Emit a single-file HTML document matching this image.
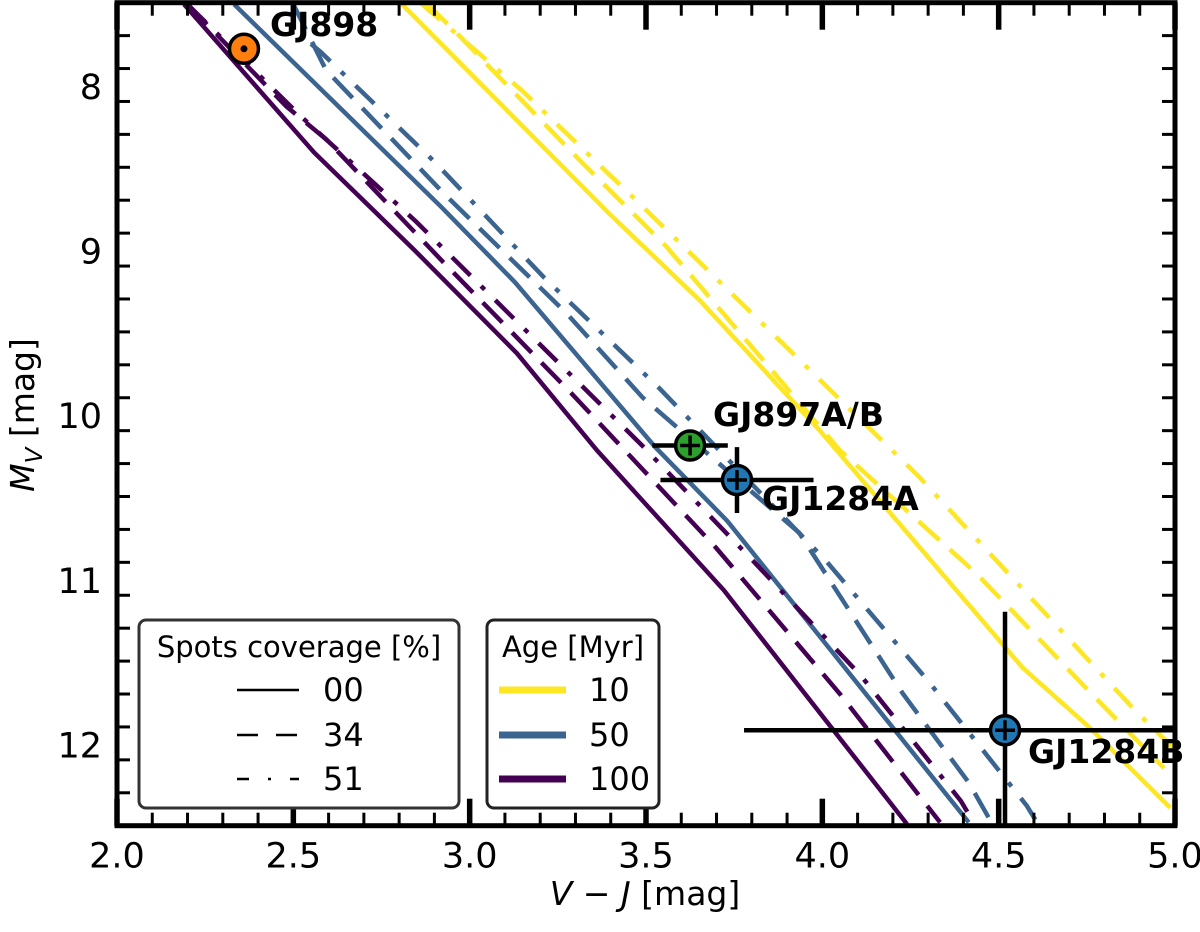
<!DOCTYPE html>
<html><head><meta charset="utf-8"><style>
html,body{margin:0;padding:0;background:#fff;}
svg{display:block;font-family:"DejaVu Sans","Liberation Sans",sans-serif;}
</style></head><body>
<svg id="chart" width="1200" height="932" viewBox="0 0 1200 932" xmlns="http://www.w3.org/2000/svg">
<defs><clipPath id="clip"><rect x="117" y="3" width="1058" height="823"/></clipPath></defs>
<g id="lines" clip-path="url(#clip)"></g>
<g id="points" clip-path="url(#clip)"></g>
<g id="axes"></g>
<text x="645" y="905" text-anchor="middle" font-size="33"><tspan font-style="italic">V</tspan> − <tspan font-style="italic">J</tspan> [mag]</text>
<text transform="translate(34,415) rotate(-90)" text-anchor="middle" font-size="33"><tspan font-style="italic">M</tspan><tspan font-style="italic" font-size="23" dy="8">V</tspan><tspan dy="-8"> [mag]</tspan></text>
<g>
<rect x="139" y="620" width="320" height="188" rx="7" fill="#fff" stroke="#333" stroke-width="3"/>
<text x="299" y="657" text-anchor="middle" font-size="29">Spots coverage [%]</text>
<line x1="237" y1="690" x2="299" y2="690" stroke="#000" stroke-width="2.5"/>
<text x="323" y="701" font-size="32">00</text>
<line x1="237" y1="735" x2="299" y2="735" stroke="#000" stroke-width="2.5" stroke-dasharray="21 18"/>
<text x="323" y="746" font-size="32">34</text>
<line x1="237" y1="779" x2="299" y2="779" stroke="#000" stroke-width="2.5" stroke-dasharray="12 19 3 19"/>
<text x="323" y="790" font-size="32">51</text>
</g>
<g>
<rect x="487" y="620" width="172" height="188" rx="7" fill="#fff" stroke="#222" stroke-width="3"/>
<text x="573" y="657" text-anchor="middle" font-size="29">Age [Myr]</text>
<line x1="499" y1="690" x2="566" y2="690" stroke="#fde725" stroke-width="7"/>
<text x="589" y="701" font-size="32">10</text>
<line x1="499" y1="735" x2="566" y2="735" stroke="#3b6590" stroke-width="7"/>
<text x="589" y="746" font-size="32">50</text>
<line x1="499" y1="779" x2="566" y2="779" stroke="#440154" stroke-width="7"/>
<text x="589" y="790" font-size="32">100</text>
</g>
</svg>
<script>
// Data arrays: [V-J, M_V]
const y10_00  = [[2.808,7.51],[3.395,8.78],[3.653,9.31],[3.993,10.10],[4.568,11.54],[4.756,11.90],[4.986,12.39]];
const y10_34  = [[2.88,7.51],[2.961,7.68],[3.318,8.47],[3.557,8.98],[4.050,10.22],[4.438,10.97],[4.782,11.74],[4.969,12.15]];
const y10_51  = [[2.86,7.50],[3.146,8.03],[3.472,8.70],[4.274,10.38],[4.580,11.09],[4.887,11.80],[5.02,12.08]];
const y50_00  = [[2.332,7.51],[2.919,8.74],[3.129,9.20],[3.526,10.20],[3.731,10.65],[4.415,12.48]];
const y50_34  = [[2.50,7.51],[2.593,7.91],[2.927,8.66],[3.276,9.39],[3.491,9.90],[3.934,10.72],[4.229,11.70],[4.416,12.24],[4.49,12.52]];
const y50_51  = [[2.55,7.75],[2.578,7.80],[2.902,8.47],[3.211,9.17],[3.537,9.84],[4.010,10.89],[4.300,11.62],[4.580,12.38],[4.62,12.52]];
const y100_00 = [[2.190,7.51],[2.559,8.41],[2.842,9.00],[3.134,9.63],[3.361,10.22],[3.721,11.07],[4.240,12.49]];
const y100_34 = [[2.20,7.51],[2.48,8.13],[2.593,8.33],[2.927,9.08],[3.287,9.87],[3.698,10.81],[4.050,11.70],[4.334,12.48]];
const y100_51 = [[2.20,7.51],[2.516,8.18],[2.848,8.83],[3.168,9.51],[3.489,10.19],[3.803,10.89],[4.110,11.59],[4.393,12.35],[4.44,12.52]];
const starNames = ["GJ898","GJ897A/B","GJ1284A","GJ1284B"];
const starX     = [2.36, 3.625, 3.758, 4.518];
const starY     = [7.78, 10.19, 10.40, 11.92];
const starXerrLo= [0.0, 0.107, 0.217, 0.74];
const starXerrHi= [0.0, 0.107, 0.217, 0.74];
const starYerr  = [0.0, 0.02, 0.2, 0.72];
const starColors= ["#ff7f0e","#2ca02c","#1f77b4","#1f77b4"];
const xTicks = [2.0,2.5,3.0,3.5,4.0,4.5,5.0];
const xTickLabels = ["2.0","2.5","3.0","3.5","4.0","4.5","5.0"];
const yTicks = [8,9,10,11,12];
const yTickLabels = ["8","9","10","11","12"];

const NS="http://www.w3.org/2000/svg";
const X0=117,X1=1175,XMIN=2,XMAX=5;
const Y8=85,PPM=164.6;
function sx(v){return X0+(v-XMIN)*(X1-X0)/(XMAX-XMIN);}
function sy(v){return Y8+(v-8)*PPM;}
function mk(tag,attrs,parent){const e=document.createElementNS(NS,tag);for(const k in attrs)e.setAttribute(k,attrs[k]);parent.appendChild(e);return e;}

const gl=document.getElementById('lines');
const series=[
 [y10_00,"#fde725","","line-10myr-00"],[y10_34,"#fde725","28 14","line-10myr-34"],[y10_51,"#fde725","26 15 5 15","line-10myr-51"],
 [y50_00,"#3b6590","","line-50myr-00"],[y50_34,"#3b6590","28 14","line-50myr-34"],[y50_51,"#3b6590","26 15 5 15","line-50myr-51"],
 [y100_00,"#440154","","line-100myr-00"],[y100_34,"#440154","28 14","line-100myr-34"],[y100_51,"#440154","26 15 5 15","line-100myr-51"]];
series.forEach(s=>{
 const p=mk('polyline',{points:s[0].map(d=>sx(d[0]).toFixed(1)+','+sy(d[1]).toFixed(1)).join(' '),fill:'none',stroke:s[1],'stroke-width':4.5},gl);
 if(s[2])p.setAttribute('stroke-dasharray',s[2]);
 
 
});

const gp=document.getElementById('points');
starNames.forEach((n,i)=>{
 const g=mk('g',{},gp);
 
 
 const cx=sx(starX[i]),cy=sy(starY[i]);
 if(starXerrLo[i]>0) mk('line',{x1:sx(starX[i]-starXerrLo[i]),x2:sx(starX[i]+starXerrHi[i]),y1:cy,y2:cy,stroke:'#000','stroke-width':4.5},g);
 if(starYerr[i]>0) mk('line',{x1:cx,x2:cx,y1:sy(starY[i]-starYerr[i]),y2:sy(starY[i]+starYerr[i]),stroke:'#000','stroke-width':4.5},g);
 mk('circle',{cx:cx,cy:cy,r:14.5,fill:starColors[i],stroke:'#000','stroke-width':3.5},g);
 if(i===0) mk('circle',{cx:cx,cy:cy,r:3.5,fill:'#000'},g);
 else {mk('line',{x1:cx-10,x2:cx+10,y1:cy,y2:cy,stroke:'#000','stroke-width':3.5},g);mk('line',{x1:cx,x2:cx,y1:cy-10,y2:cy+10,stroke:'#000','stroke-width':3.5},g);}
});
const svg=document.getElementById('chart');
const labels=[[270,36,"GJ898"],[713,426,"GJ897A/B"],[762,510,"GJ1284A"],[1028,763,"GJ1284B"]];
labels.forEach((l,i)=>{
 const t=mk('text',{x:l[0],y:l[1],'font-size':33,'font-weight':'bold'},svg);
 t.textContent=l[2];
 
 
});

const ga=document.getElementById('axes');
const YT=sy(7.5),YB=sy(12.5);
mk('rect',{x:X0,y:YT,width:X1-X0,height:YB-YT,fill:'none',stroke:'#000','stroke-width':5},ga);
for(let k=0;k<=30;k++){
 const v=2+k*0.1,x=sx(v),maj=(k%5===0),L=maj?27:13,w=maj?5.5:3;
 mk('line',{x1:x,x2:x,y1:YB,y2:YB-L,stroke:'#000','stroke-width':w},ga);
 mk('line',{x1:x,x2:x,y1:YT,y2:YT+L,stroke:'#000','stroke-width':w},ga);
}
for(let k=0;k<=25;k++){
 const v=7.5+k*0.2;const y=sy(v);const maj=Math.abs(v-Math.round(v))<1e-6,L=maj?27:13,w=maj?5.5:3;
 mk('line',{x1:X0,x2:X0+L,y1:y,y2:y,stroke:'#000','stroke-width':w},ga);
 mk('line',{x1:X1,x2:X1-L,y1:y,y2:y,stroke:'#000','stroke-width':w},ga);
}
xTicks.forEach((v,i)=>{
 const t=mk('text',{x:sx(v),y:YB+42,'text-anchor':'middle','font-size':35},ga);
 t.textContent=xTickLabels[i];
 
 
});
yTicks.forEach((v,i)=>{
 const t=mk('text',{x:X0-15,y:sy(v)+14,'text-anchor':'end','font-size':35},ga);
 t.textContent=yTickLabels[i];
 
 
});
</script>
</body></html>
